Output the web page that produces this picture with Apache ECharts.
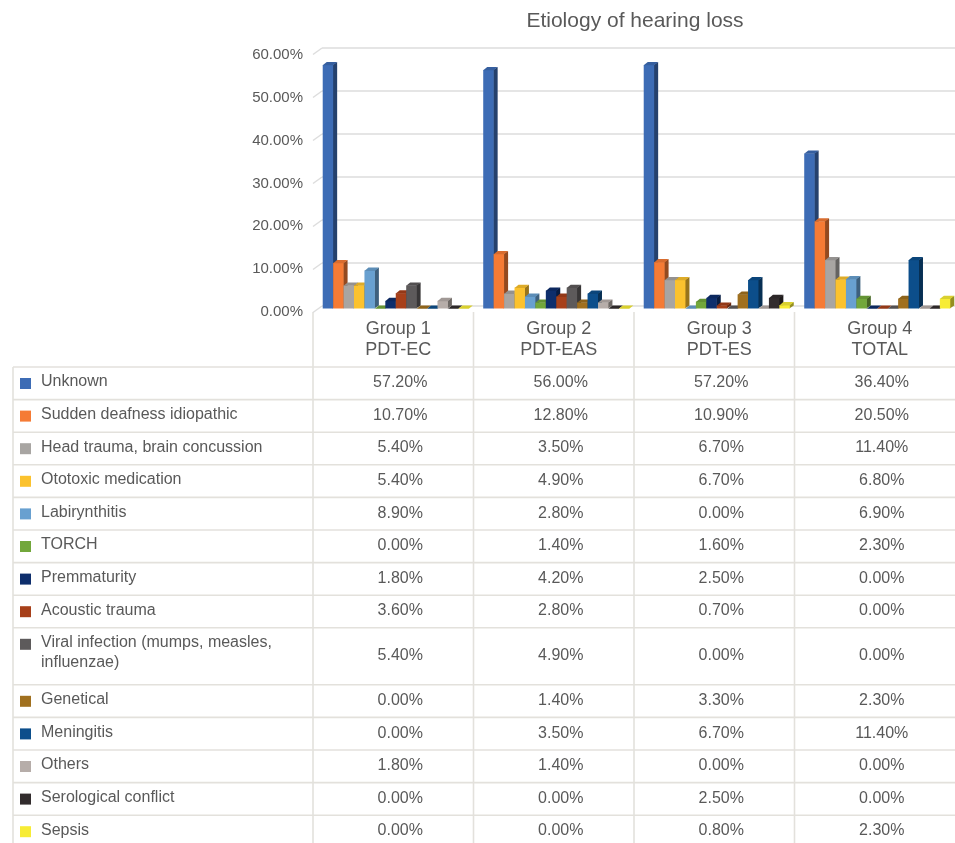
<!DOCTYPE html>
<html><head><meta charset="utf-8">
<script src="https://cdn.jsdelivr.net/npm/echarts@6/dist/echarts.min.js"></script>
<style>html,body{margin:0;padding:0;background:#fff}#c{width:955px;height:843px}</style>
</head><body><div id="c"></div>
<script>
// ---------- data ----------
const chartTitle = 'Etiology of hearing loss';
const groups = ['Group 1', 'Group 2', 'Group 3', 'Group 4'];
const groupSub = ['PDT-EC', 'PDT-EAS', 'PDT-ES', 'TOTAL'];
const etiologies = ['Unknown', 'Sudden deafness idiopathic', 'Head trauma, brain concussion',
  'Ototoxic medication', 'Labirynthitis', 'TORCH', 'Premmaturity', 'Acoustic trauma',
  'Viral infection (mumps, measles, influenzae)', 'Genetical', 'Meningitis', 'Others',
  'Serological conflict', 'Sepsis'];
const unknown        = [57.2, 56.0, 57.2, 36.4];
const suddenDeafness = [10.7, 12.8, 10.9, 20.5];
const headTrauma     = [5.4, 3.5, 6.7, 11.4];
const ototoxic       = [5.4, 4.9, 6.7, 6.8];
const labirynthitis  = [8.9, 2.8, 0.0, 6.9];
const torch          = [0.0, 1.4, 1.6, 2.3];
const premmaturity   = [1.8, 4.2, 2.5, 0.0];
const acousticTrauma = [3.6, 2.8, 0.7, 0.0];
const viralInfection = [5.4, 4.9, 0.0, 0.0];
const genetical      = [0.0, 1.4, 3.3, 2.3];
const meningitis     = [0.0, 3.5, 6.7, 11.4];
const others         = [1.8, 1.4, 0.0, 0.0];
const serological    = [0.0, 0.0, 2.5, 0.0];
const sepsis         = [0.0, 0.0, 0.8, 2.3];
const tickValues = [0, 10, 20, 30, 40, 50, 60];
const tickLabels = ['0.00%', '10.00%', '20.00%', '30.00%', '40.00%', '50.00%', '60.00%'];

const seriesValues = [unknown, suddenDeafness, headTrauma, ototoxic, labirynthitis, torch,
  premmaturity, acousticTrauma, viralInfection, genetical, meningitis, others, serological, sepsis];

// ---------- style ----------
const colors = ['#3d6cb5', '#f57b35', '#a8a5a2', '#fbc22e', '#68a0d0', '#72a73b', '#0e2e6c',
  '#a7401a', '#5d5a5b', '#a0701f', '#0c4e8b', '#b6ada9', '#322c2d', '#f7ec35'];
const FONT = "'Liberation Sans', Arial, Helvetica, sans-serif";
const textColor = '#595959';
const gridColor = '#dddddd';
const tableLine = '#e3e1dc';

function shade(hex, f) {
  const n = parseInt(hex.slice(1), 16);
  const r = Math.round(((n >> 16) & 255) * f), g = Math.round(((n >> 8) & 255) * f), b = Math.round((n & 255) * f);
  return 'rgb(' + r + ',' + g + ',' + b + ')';
}

const chart = echarts.init(document.getElementById('c'), null, { renderer: 'canvas' });

const barSeries = seriesValues.map((vals, i) => ({
  type: 'custom',
  name: etiologies[i],
  xAxisIndex: 0, yAxisIndex: 0,
  data: vals.map((v, j) => [j, v]),
  encode: { x: 0, y: 1 },
  animation: false,
  renderItem: (params, api) => {
    const j = api.value(0), v = api.value(1);
    const base = api.coord([j, 0]);
    const top = api.coord([j, v]);
    const band = api.size([1, 0])[0];
    const w = band * 0.065;
    const x0 = base[0] - 7 * w + 2.5 + i * w;
    const x1 = x0 + w;
    const yb = base[1], yt = top[1];
    const dx = 4, dy = 3;
    const c = colors[i];
    return {
      type: 'group',
      children: [
        { type: 'polygon', shape: { points: [[x1 - 0.5, yt], [x1 + dx, yt - dy], [x1 + dx, yb - dy], [x1 - 0.5, yb]] }, style: { fill: shade(c, 0.6) } },
        { type: 'rect', shape: { x: x0, y: yt, width: w, height: yb - yt }, style: { fill: c } },
        { type: 'polygon', shape: { points: [[x0, yt + 0.3], [x1, yt + 0.3], [x1 + dx, yt - dy], [x0 + dx, yt - dy]] }, style: { fill: shade(c, 0.88) } }
      ]
    };
  }
}));

const connectorSeries = {
  type: 'custom',
  xAxisIndex: 1, yAxisIndex: 1,
  silent: true, animation: false,
  data: tickValues.map(v => [0, v]),
  encode: { x: 0, y: 1 },
  renderItem: (params, api) => {
    const p = api.coord([0, api.value(1)]);
    return { type: 'line', shape: { x1: p[0] - 9, y1: p[1] + 6.5, x2: p[0], y2: p[1] }, style: { stroke: gridColor, lineWidth: 1.5 } };
  }
};

const option = {
  animation: false,
  backgroundColor: '#ffffff',
  grid: [
    { left: 313, right: 0, top: 53, bottom: 534.5 },   // bars
    { left: 322, right: 0, top: 48, bottom: 537 },     // back wall gridlines
    { left: 313, right: 0, top: 55, bottom: 531 }      // front labels
  ],
  xAxis: [
    { gridIndex: 0, type: 'category', data: groups, show: false },
    { gridIndex: 1, type: 'value', min: 0, max: 1, show: false },
    { gridIndex: 2, type: 'value', min: 0, max: 1, show: false }
  ],
  yAxis: [
    { gridIndex: 0, type: 'value', min: 0, max: 60, interval: 10, show: false },
    { gridIndex: 1, type: 'value', min: 0, max: 60, interval: 10,
      axisLabel: { show: false }, axisLine: { show: false }, axisTick: { show: false },
      splitLine: { show: true, lineStyle: { color: gridColor, width: 1.5 } } },
    { gridIndex: 2, type: 'value', min: 0, max: 60, interval: 10,
      axisLine: { show: false }, axisTick: { show: false }, splitLine: { show: false },
      axisLabel: { color: textColor, fontSize: 15, fontFamily: FONT, margin: 10,
        formatter: v => tickLabels[tickValues.indexOf(v)] } }
  ],
  series: [connectorSeries].concat(barSeries)
};
chart.setOption(option);

// ---------- table built from the data ----------
function wrapText(text, font, maxW) {
  const ctx = document.createElement('canvas').getContext('2d');
  ctx.font = font;
  const words = text.split(' ');
  const lines = [];
  let cur = '';
  words.forEach(wd => {
    const t = cur ? cur + ' ' + wd : wd;
    if (ctx.measureText(t).width > maxW && cur) { lines.push(cur); cur = wd; } else { cur = t; }
  });
  if (cur) lines.push(cur);
  return lines;
}

const centers = groups.map((g, j) => chart.convertToPixel({ xAxisIndex: 0 }, j));
const band = centers.length > 1 ? centers[1] - centers[0] : 160;
const zeroFront = chart.convertToPixel({ yAxisIndex: 2 }, 0);
const W = 955;
const tableLeft = 13;
const firstRowTop = 367;
const rowH = 32.6, lineH = 20;
const labelFont = '16px ' + FONT;

const graphics = [];
// title
graphics.push({ type: 'text', x: (313 + W) / 2 + 1, y: 21, silent: true,
  style: { text: chartTitle, font: '21px ' + FONT, fill: textColor, align: 'center', verticalAlign: 'middle', textAlign: 'center', textVerticalAlign: 'middle' } });

// header
groups.forEach((g, j) => {
  graphics.push({ type: 'text', x: centers[j] + 5, y: 339.5, silent: true,
    style: { text: g + '\n' + groupSub[j], font: '18px ' + FONT, lineHeight: 21, fill: textColor,
      align: 'center', verticalAlign: 'middle', textAlign: 'center', textVerticalAlign: 'middle' } });
});

// rows
let y = firstRowTop;
const rowTops = [];
etiologies.forEach((name, i) => {
  const lines = wrapText(name, labelFont, 262);
  const h = lines.length > 1 ? rowH + (lines.length - 1) * 24.4 : rowH;
  rowTops.push(y);
  graphics.push({ type: 'rect', silent: true, shape: { x: 20, y: y + 11, width: 11, height: 11 }, style: { fill: colors[i] } });
  graphics.push({ type: 'text', x: 41, y: y + 5, silent: true,
    style: { text: lines.join('\n'), font: labelFont, lineHeight: lineH, fill: textColor,
      align: 'left', verticalAlign: 'top', textAlign: 'left', textVerticalAlign: 'top' } });
  seriesValues[i].forEach((v, j) => {
    graphics.push({ type: 'text', x: centers[j] + 7, y: y + h / 2 - 0.5, silent: true,
      style: { text: v.toFixed(2) + '%', font: labelFont, fill: textColor,
        align: 'center', verticalAlign: 'middle', textAlign: 'center', textVerticalAlign: 'middle' } });
  });
  y += h;
});
rowTops.push(y);

// horizontal lines
rowTops.forEach(t => {
  graphics.push({ type: 'line', silent: true, shape: { x1: tableLeft, y1: t, x2: W, y2: t }, style: { stroke: tableLine, lineWidth: 1.6 } });
});
// vertical lines
graphics.push({ type: 'line', silent: true, shape: { x1: tableLeft, y1: firstRowTop, x2: tableLeft, y2: y }, style: { stroke: tableLine, lineWidth: 1.6 } });
centers.forEach(cx => {
  const xl = cx - band / 2;
  graphics.push({ type: 'line', silent: true, shape: { x1: xl, y1: zeroFront, x2: xl, y2: y }, style: { stroke: tableLine, lineWidth: 1.6 } });
});

chart.setOption({ graphic: { elements: graphics } });
</script>
</body></html>
